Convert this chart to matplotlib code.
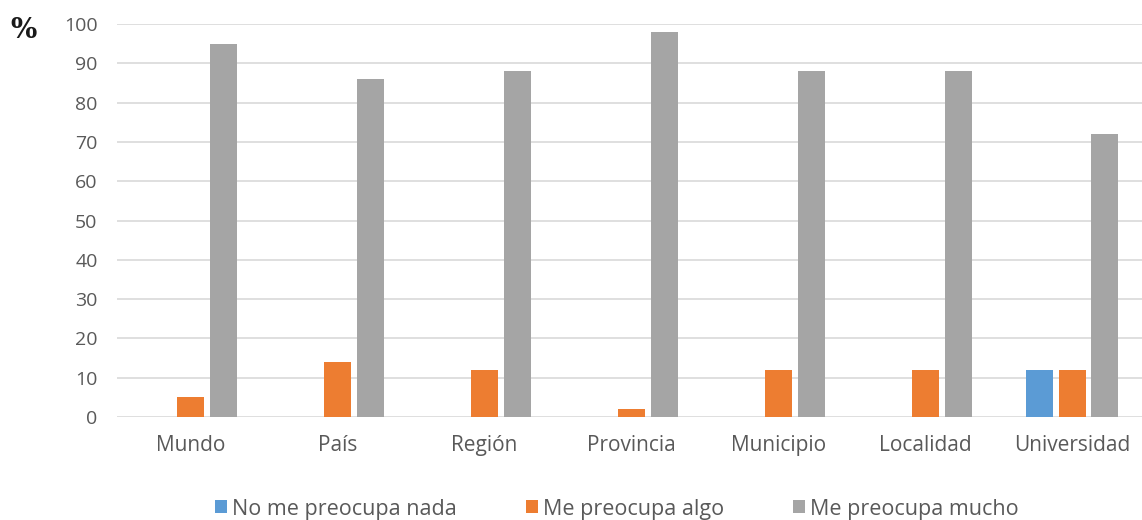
import matplotlib
matplotlib.use("Agg")
import matplotlib.pyplot as plt
import numpy as np

categories = ["Mundo", "País", "Región", "Provincia", "Municipio", "Localidad", "Universidad"]
series_names = ["No me preocupa nada", "Me preocupa algo", "Me preocupa mucho"]
nada = [0, 0, 0, 0, 0, 0, 12]
algo = [5, 14, 12, 2, 12, 12, 12]
mucho = [95, 86, 88, 98, 88, 88, 72]
yticks = [0, 10, 20, 30, 40, 50, 60, 70, 80, 90, 100]
colors = ["#5B9BD5", "#ED7D31", "#A5A5A5"]

plt.rcParams['font.family'] = ['Open Sans', 'DejaVu Sans']
fig = plt.figure(figsize=(11.42, 5.2), dpi=100)
ax = fig.add_axes([117/1142, 1 - 417/520, 1 - 117/1142, (417 - 24)/520])

x = np.arange(len(categories))
step = 0.224
width = 0.184
for i, (vals, name, c) in enumerate(zip([nada, algo, mucho], series_names, colors)):
    ax.bar(x + (i - 1) * step, vals, width=width, color=c, label=name, zorder=3)

ax.set_xlim(-0.5, 6.476)
ax.set_ylim(0, 100)
ax.set_yticks(yticks)
ax.set_xticks(x)
ax.set_xticklabels(categories)
ax.grid(axis='y', color='#D9D9D9', linewidth=1.2, zorder=0)
for s in ax.spines.values():
    s.set_visible(False)
ax.tick_params(axis='both', length=0, colors='#595959')
ax.tick_params(axis='y', pad=14, labelsize=14)
ax.tick_params(axis='x', pad=13, labelsize=15)

fig.text(10/1142, 1 - 30/520, "%", fontsize=20, fontweight='bold', color='#1a1a1a',
         family='DejaVu Serif', ha='left', va='center')

leg = fig.legend(loc='center', bbox_to_anchor=(617/1142, 1 - 509/520), ncol=3, frameon=False,
                 fontsize=15.5, handlelength=0.55, handleheight=0.55, handletextpad=0.25,
                 columnspacing=3.2, labelcolor='#595959')

fig.savefig("out.png", dpi=100)
